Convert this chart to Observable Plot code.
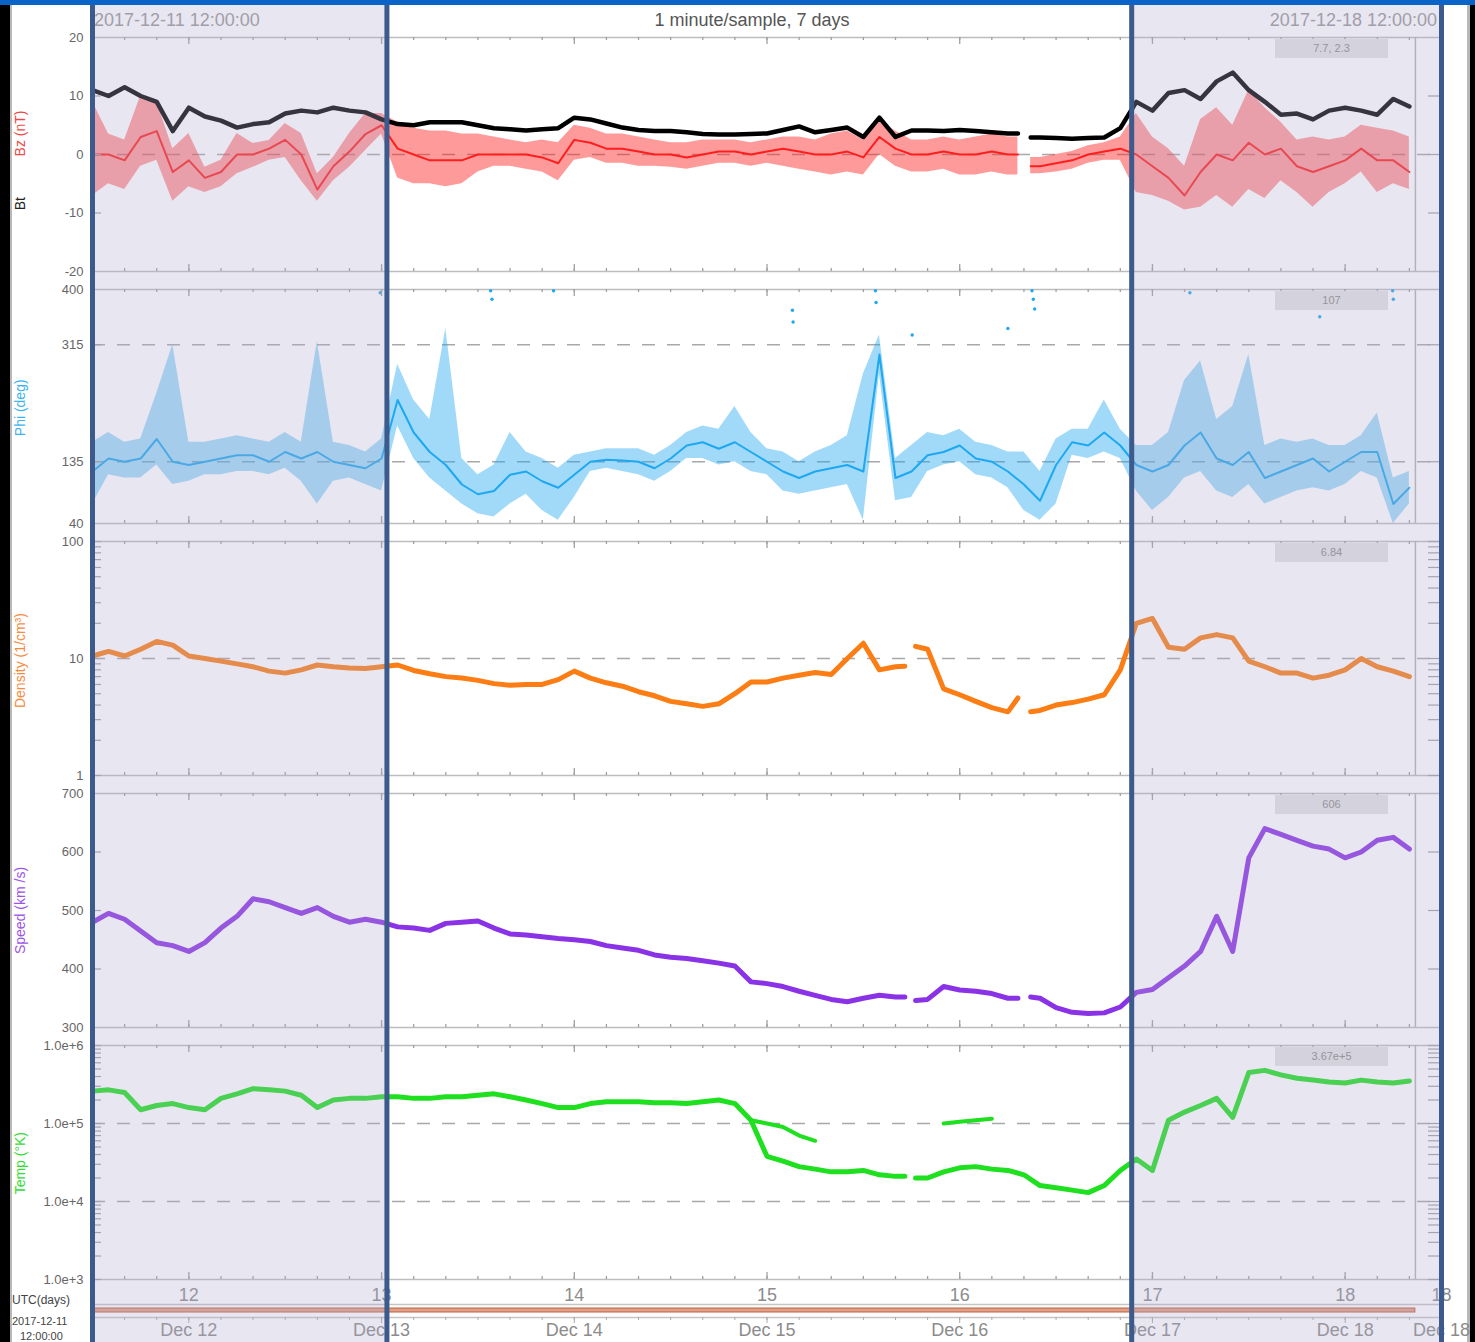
<!DOCTYPE html>
<html>
<head>
<meta charset="utf-8">
<script src="https://cdn.jsdelivr.net/npm/d3@7"></script>
<script src="https://cdn.jsdelivr.net/npm/@observablehq/plot@0.6"></script>
<style>
  html, body { margin: 0; padding: 0; background: #fff; }
  #wrap { position: relative; width: 1475px; height: 1342px; overflow: hidden; background: #fff;
          font-family: "Liberation Sans", Arial, sans-serif; }
  #wrap > * { position: absolute; }
  .hdr { font-size: 18px; line-height: 18px; top: 11px; white-space: nowrap; }
  .vbox { width: 113px; height: 19px; background: #e3e3e3; color: #8a8a8a; font-size: 11px; line-height: 19px; text-align: center; }
  .small { color: #444; white-space: nowrap; }
</style>
</head>
<body>
<div id="wrap"></div>
<script>
// ---------------- data (2-hour samples, starting 2017-12-11 12:00 UTC) -------------
const startTime = "2017-12-11T12:00:00Z";
const endTime = "2017-12-18T12:00:00Z";
const dataEndTime = "2017-12-18T08:45:00Z";
const sampleHours = 2;

const bt = [11, 10, 11.5, 10, 9, 4, 8, 6.5, 5.8, 4.6,
  5.2, 5.5, 7, 7.5, 7.2, 8, 7.5, 7.2, 6, 5.2,
  5.0, 5.5, 5.5, 5.5, 5.0, 4.5, 4.3, 4.1, 4.3, 4.5,
  6.3, 6.0, 5.3, 4.6, 4.2, 4.0, 4.0, 3.8, 3.5, 3.4,
  3.4, 3.5, 3.6, 4.2, 4.8, 3.8, 4.2, 4.6, 3.0, 6.3,
  3.0, 4.1, 4.1, 4.0, 4.2, 4.0, 3.8, 3.6, null, 2.9,
  2.8, 2.7, 2.8, 2.9, 4.5, 9, 7.5, 10.5, 11, 9.5,
  12.5, 14, 11, 9, 6.8, 7, 6, 7.5, 8, 7.5,
  6.8, 9.5, 8.2];

const bz = [0, 0, -1, 3, 4, -3, -1, -4, -3, 0,
  0, 1, 2.5, 0, -6, -2, 0.5, 3.5, 5, 1,
  0, -1, -1, -1, 0, 0, 0, 0, -0.5, -1.5,
  2.5, 2, 1, 1, 0.5, 0, 0, -0.5, 0, 0.5,
  0.5, 0, 0.5, 1, 0.5, 0, 0, 0.5, -0.5, 3,
  1, 0, 0, 0.5, 0, 0, 0.5, 0, null, -2,
  -1.5, -1, 0, 0.5, 1, 0, -2, -4, -7, -3,
  0, -1, 2, 0, 1, -2, -3, -2, -1, 1,
  -1, -1, -3];
const bzLow = [-7, -5, -6, -2, -1, -8, -5.5, -6.5, -5.5, -3.3,
  -2.2, -1, -0.5, -4.5, -8, -4.5, -2.2, 0.7, 3.5, -4,
  -5, -5, -5.5, -5, -3, -2, -2, -2.5, -3, -4.5,
  -1, -0.5, -1.5, -1.5, -2, -2, -2.2, -2.5, -2, -1.5,
  -1.5, -2, -1.5, -2, -2.5, -3, -3.5, -3, -3.5, 0,
  -2, -3, -3, -2.5, -3.5, -3.5, -3, -3.5, null, -3.3,
  -3, -2.5, -1.5, -1, -1, -6.5, -7, -8, -9.5, -9,
  -7, -9, -6, -7.5, -4.5, -6.5, -9, -6.5, -5, -3,
  -6.5, -5, -6];
const bzHigh = [9, 3.5, 2.5, 10, 9, 1, 3.6, -2.2, -1, 3.6,
  1.9, 2.4, 5.3, 3.6, -3.3, -0.5, 3.6, 7, 7, 5.5,
  4.5, 4, 4, 3.5, 3.5, 3, 2.5, 2, 2.5, 2,
  5, 4.5, 3.5, 3.5, 3, 2.5, 2, 2, 2.5, 2.5,
  2.5, 2, 2.5, 3, 3, 2.5, 3.5, 4, 2.5, 5.5,
  4, 2.5, 2.5, 3, 2.5, 3, 3.5, 3, null, -0.5,
  0, 0.5, 1.5, 2, 3, 7, 3, 1, -2, 6,
  8, 5, 11, 8, 5.5, 2.5, 3, 2.5, 3, 5,
  4.5, 4, 3];

const phi = [120, 140, 135, 140, 170, 135, 130, 135, 140, 145,
  145, 135, 150, 140, 150, 135, 130, 125, 140, 230,
  180, 150, 130, 100, 85, 90, 115, 120, 105, 95,
  115, 135, 138, 137, 135, 125, 140, 160, 165, 155,
  165, 150, 135, 120, 110, 120, 125, 130, 120, 300,
  110, 120, 145, 150, 160, 140, 135, 120, 100, 75,
  130, 165, 160, 180, 160, 130, 120, 130, 160, 180,
  140, 130, 150, 110, 120, 130, 140, 120, 135, 150,
  150, 70, 95];
const phiLow = [70, 115, 110, 110, 130, 100, 105, 115, 115, 120,
  120, 115, 125, 105, 70, 105, 110, 100, 90, 190,
  140, 110, 90, 70, 55, 50, 70, 85, 60, 45,
  80, 120, 125, 120, 115, 105, 120, 140, 140, 130,
  135, 120, 115, 90, 85, 90, 95, 100, 45, 270,
  75, 80, 120, 130, 135, 115, 110, 95, 60, 45,
  70, 145, 140, 150, 140, 90, 60, 80, 110, 120,
  90, 80, 100, 70, 80, 90, 95, 90, 100, 120,
  110, 40, 70];
const phiHigh = [165, 180, 165, 170, 240, 315, 165, 165, 170, 175,
  170, 165, 180, 165, 320, 165, 160, 150, 170, 285,
  230, 200, 340, 140, 115, 130, 180, 150, 140, 125,
  145, 150, 155, 155, 155, 145, 160, 180, 190, 185,
  220, 180, 155, 150, 135, 150, 160, 175, 270, 330,
  140, 160, 180, 175, 185, 165, 160, 150, 150, 120,
  170, 185, 185, 230, 185, 160, 160, 180, 260, 290,
  200, 220, 300, 160, 170, 165, 170, 160, 160, 175,
  210, 110, 120];
// isolated Phi points near the top of the panel
const phiOutlierTimes = ["2017-12-12T23:50Z", "2017-12-13T13:35Z", "2017-12-13T13:45Z", "2017-12-13T21:25Z",
  "2017-12-15T03:10Z", "2017-12-15T03:15Z", "2017-12-15T13:30Z", "2017-12-15T13:35Z", "2017-12-15T18:05Z",
  "2017-12-16T06:00Z", "2017-12-16T09:00Z", "2017-12-16T09:10Z", "2017-12-16T09:20Z", "2017-12-17T04:40Z",
  "2017-12-17T20:50Z", "2017-12-18T05:55Z", "2017-12-18T06:00Z"];
const phiOutlierValues = [395, 398, 385, 398, 368, 350, 398, 380, 330, 340, 398, 385, 370, 395, 358, 398, 385];

const density = [10.5, 11.5, 10.5, 12, 14, 13, 10.5, 10, 9.5, 9,
  8.5, 7.8, 7.5, 8, 8.8, 8.5, 8.3, 8.2, 8.5, 8.8,
  7.9, 7.4, 7.0, 6.8, 6.5, 6.1, 5.9, 6.0, 6.0, 6.6,
  7.8, 6.8, 6.2, 5.8, 5.2, 4.8, 4.3, 4.1, 3.9, 4.1,
  5.0, 6.3, 6.3, 6.8, 7.2, 7.6, 7.3, 10, 13.5, 8,
  8.5, null, 12, 5.5, 4.9, 4.3, 3.8, 3.5, null, 3.6,
  4.0, 4.2, 4.5, 4.9, 8, 20, 22, 12.5, 12, 15,
  16, 15, 9.5, 8.5, 7.5, 7.5, 6.8, 7.2, 8, 10,
  8.5, 7.8, 7];

const speed = [480, 495, 485, 465, 445, 440, 430, 445, 470, 490,
  520, 515, 505, 495, 505, 490, 480, 485, 480, 472,
  470, 466, 478, 480, 482, 470, 460, 458, 455, 452,
  450, 447, 440, 436, 432, 424, 420, 418, 414, 410,
  405, 378, 375, 370, 362, 355, 348, 344, 350, 355,
  352, null, 348, 370, 364, 362, 358, 350, null, 350,
  334, 326, 324, 325, 335, 360, 365, 385, 405, 430,
  490, 430, 590, 640, 630, 620, 610, 605, 590, 600,
  620, 625, 605];

const temp = [2.6e5, 2.7e5, 2.5e5, 1.5e5, 1.7e5, 1.8e5, 1.6e5, 1.5e5, 2.1e5, 2.4e5,
  2.8e5, 2.7e5, 2.6e5, 2.3e5, 1.6e5, 2.0e5, 2.1e5, 2.1e5, 2.2e5, 2.2e5,
  2.1e5, 2.1e5, 2.2e5, 2.2e5, 2.3e5, 2.4e5, 2.2e5, 2.0e5, 1.8e5, 1.6e5,
  1.6e5, 1.8e5, 1.9e5, 1.9e5, 1.9e5, 1.85e5, 1.85e5, 1.8e5, 1.9e5, 2.0e5,
  1.8e5, 1.1e5, 3.8e4, 3.3e4, 2.8e4, 2.6e4, 2.4e4, 2.4e4, 2.5e4, 2.2e4,
  2.1e4, null, 2.0e4, 2.4e4, 2.7e4, 2.8e4, 2.6e4, 2.5e4, 2.2e4, 1.6e4,
  1.5e4, 1.4e4, 1.3e4, 1.6e4, 2.5e4, 3.5e4, 2.5e4, 1.1e5, 1.4e5, 1.7e5,
  2.1e5, 1.2e5, 4.5e5, 4.8e5, 4.2e5, 3.8e5, 3.6e5, 3.4e5, 3.3e5, 3.6e5,
  3.4e5, 3.3e5, 3.5e5];
// second (upper) cluster of temperature points
const tempUpper = [null, null, null, null, null, null, null, null, null, null,
  null, null, null, null, null, null, null, null, null, null,
  null, null, null, null, null, null, null, null, null, null,
  null, null, null, null, null, null, null, null, null, null,
  null, 1.1e5, 1.0e5, 9e4, 7e4, 6e4, null, null, null, null,
  null, null, null, 1.0e5, 1.05e5, 1.1e5, 1.15e5, null, null, null,
  null, null, null, null, null, null, null, null, null, null,
  null, null, null, null, null, null, null, null, null, null,
  null, null, null];

// values read just before / after the two data gaps (null = that series has no gap there)
const gapEdgeTimes = ["2017-12-15T17:10Z", "2017-12-15T18:30Z", "2017-12-16T07:15Z", "2017-12-16T08:50Z"];
const btEdge      = [null, null, 3.6, 2.9];
const bzEdge      = [null, null, 0, -2];
const bzLowEdge   = [null, null, -3.5, -3.3];
const bzHighEdge  = [null, null, 3, -0.5];
const densityEdge = [8.6, 12.7, 4.6, 3.5];
const speedEdge   = [352, 346, 350, 352];
const tempEdge    = [2.1e4, 2.0e4, null, null];

// shaded intervals
const shadedStarts = ["2017-12-11T12:00:00Z", "2017-12-16T21:25:00Z"];
const shadedEnds = ["2017-12-13T00:40:00Z", "2017-12-18T12:00:00Z"];

// current-value labels
const valueLabels = ["7.7, 2.3", "107", "6.84", "606", "3.67e+5"];

// axis ticks
const bzTicks = [-20, -10, 0, 10, 20];
const phiTicks = [40, 135, 315, 400];
const densityTicks = [1, 10, 100];
const speedTicks = [300, 400, 500, 600, 700];
const tempTicks = [1e3, 1e4, 1e5, 1e6];
const bzRefs = [0], phiRefs = [135, 315], densityRefs = [10], speedRefs = [], tempRefs = [1e4, 1e5];

// ---------------- layout ---------------------------------------------------------------------
const T0 = new Date(startTime), T1 = new Date(endTime), dataEnd = new Date(dataEndTime);
const times = bt.map((_, i) => d3.utcHour.offset(T0, i * sampleHours));
const edgeTimes = gapEdgeTimes.map(s => new Date(s));

// one series = regular samples + gap-edge samples, sorted in time
function series(vals, edge) {
  const out = times.map((t, i) => ({t, v: vals[i]}));
  if (edge) edge.forEach((v, k) => { if (v != null) out.push({t: edgeTimes[k], v}); });
  return out.sort((a, b) => a.t - b.t);
}
function band(lo, hi, loEdge, hiEdge) {
  const out = times.map((t, i) => ({t, lo: lo[i], hi: hi[i]}));
  if (loEdge) loEdge.forEach((v, k) => { if (v != null) out.push({t: edgeTimes[k], lo: v, hi: hiEdge[k]}); });
  return out.sort((a, b) => a.t - b.t);
}
const btS = series(bt, btEdge), bzS = series(bz, bzEdge), bzB = band(bzLow, bzHigh, bzLowEdge, bzHighEdge);
const phiS = series(phi), phiB = band(phiLow, phiHigh);
const nS = series(density, densityEdge), vS = series(speed, speedEdge);
const tS = series(temp, tempEdge), tU = series(tempUpper);
const phiOut = phiOutlierTimes.map((t, i) => ({t: new Date(t), v: phiOutlierValues[i]}));
const shaded = shadedStarts.map((s, i) => ({start: new Date(s), end: new Date(shadedEnds[i])}));

const W = 1475, ML = 92, MR = 34, PH = 234, innerW = W - ML - MR;
const panelTops = [37, 289, 541, 793, 1045];
const xDomain = [T0, T1];
const hours4 = d3.utcHour.every(4).range(T0, T1);
const days = d3.utcDay.range(d3.utcHour.offset(T0, 1), T1);
const font = "Liberation Sans, Arial, sans-serif";
const baseStyle = {background: "transparent", overflow: "visible", fontFamily: font, fontSize: "13px", color: "#666"};

function logMinor(lo, hi) { // log tick marks between decades
  const out = [];
  for (let d = lo; d < hi; d *= 10) for (let k = 1; k < 10; k++) out.push(d * k);
  out.push(hi);
  return out;
}

const wrap = document.getElementById("wrap");
function box(css) { const d = document.createElement("div"); Object.assign(d.style, css); wrap.appendChild(d); return d; }
function txt(cls, text, css) { const d = box(css); d.className = cls; d.textContent = text; return d; }
function put(svg, top) { svg.style.position = "absolute"; svg.style.left = "0px"; svg.style.top = top + "px"; wrap.appendChild(svg); }

// window edges
box({left: "0px", top: "0px", width: "1475px", height: "5px", background: "#0a64c8"});
box({left: "0px", top: "5px", width: "10px", height: "1337px", background: "#000"});
box({left: "10px", top: "5px", width: "2px", height: "1337px", background: "#b8b8b8"});
box({left: "1467px", top: "5px", width: "3px", height: "1337px", background: "#b8b8b8"});
box({left: "1470px", top: "5px", width: "5px", height: "1337px", background: "#000"});

function edgeTicks() {
  const s = {stroke: "#a0a0a0", strokeWidth: 1.3};
  return [
    Plot.tickX(hours4, {...s, insetBottom: PH - 3}),
    Plot.tickX(hours4, {...s, insetTop: PH - 3}),
    Plot.tickX(days, {...s, insetBottom: PH - 7}),
    Plot.tickX(days, {...s, insetTop: PH - 7})
  ];
}

function panel({top, y, refs, sideTicks, marks, labels}) {
  const svg = Plot.plot({
    width: W, height: PH + 18, marginTop: 18, marginBottom: 0, marginLeft: ML, marginRight: MR,
    style: baseStyle,
    x: {domain: xDomain, axis: null},
    y: {...y, tickSize: 0, tickPadding: 9, label: null},
    marks: [
      Plot.frame({stroke: "#bdbdbd", strokeWidth: 1.5}),
      Plot.ruleY(refs, {stroke: "#a8a8a8", strokeWidth: 1.6, strokeDasharray: "13,12"}),
      Plot.ruleX([dataEnd], {stroke: "#b4b4b4", strokeWidth: 1.5}),
      ...marks,
      Plot.tickY(sideTicks, {stroke: "#a0a0a0", strokeWidth: 1.2, insetRight: innerW - 9}),
      Plot.tickY(sideTicks, {stroke: "#a0a0a0", strokeWidth: 1.2, insetLeft: innerW - 13}),
      ...edgeTicks(),
      Plot.text(labels, {text: "label", y: "y", fill: "fill", frameAnchor: "left", textAnchor: "middle",
        dx: -72, rotate: -90, fontSize: 14})
    ]
  });
  put(svg, top - 18);
}

// Panel 1: Bz / Bt
panel({
  top: panelTops[0],
  y: {domain: [-20, 20], ticks: bzTicks, tickFormat: d => String(d)},
  refs: bzRefs, sideTicks: [-10, 0, 10],
  marks: [
    Plot.areaY(bzB, {x: "t", y1: "lo", y2: "hi", fill: "#ff1e1e", fillOpacity: 0.45}),
    Plot.lineY(bzS, {x: "t", y: "v", stroke: "#ff1e1e", strokeWidth: 2}),
    Plot.lineY(btS, {x: "t", y: "v", stroke: "#000", strokeWidth: 4.5})
  ],
  labels: [{label: "Bz (nT)", y: 3.6, fill: "#f04848"}, {label: "Bt", y: -8.4, fill: "#222"}]
});

// Panel 2: Phi
panel({
  top: panelTops[1],
  y: {domain: [40, 400], ticks: phiTicks, tickFormat: d => String(d)},
  refs: phiRefs, sideTicks: [135, 315],
  marks: [
    Plot.areaY(phiB, {x: "t", y1: "lo", y2: "hi", fill: "#1ea8f0", fillOpacity: 0.42}),
    Plot.lineY(phiS, {x: "t", y: "v", stroke: "#1ea8f0", strokeWidth: 2}),
    Plot.dot(phiOut, {x: "t", y: "v", r: 1.7, fill: "#1ea8f0"})
  ],
  labels: [{label: "Phi (deg)", y: 218, fill: "#3ab4f0"}]
});

// Panel 3: Density
panel({
  top: panelTops[2],
  y: {type: "log", domain: [1, 100], ticks: densityTicks, tickFormat: d => String(d)},
  refs: densityRefs, sideTicks: logMinor(1, 100),
  marks: [
    Plot.lineY(nS, {x: "t", y: "v", stroke: "#fb7d14", strokeWidth: 5})
  ],
  labels: [{label: "Density (1/cm³)", y: 9.6, fill: "#f88a3c"}]
});

// Panel 4: Speed
panel({
  top: panelTops[3],
  y: {domain: [300, 700], ticks: speedTicks, tickFormat: d => String(d)},
  refs: speedRefs, sideTicks: [400, 500, 600],
  marks: [
    Plot.lineY(vS, {x: "t", y: "v", stroke: "#8a33e6", strokeWidth: 5})
  ],
  labels: [{label: "Speed (km /s)", y: 500, fill: "#9a55e8"}]
});

// Panel 5: Temperature
panel({
  top: panelTops[4],
  y: {type: "log", domain: [1e3, 1e6], ticks: tempTicks, tickFormat: d3.format(".1e")},
  refs: tempRefs, sideTicks: logMinor(1e3, 1e6),
  marks: [
    Plot.lineY(tU, {x: "t", y: "v", stroke: "#1ee01e", strokeWidth: 4}),
    Plot.lineY(tS, {x: "t", y: "v", stroke: "#1ee01e", strokeWidth: 5})
  ],
  labels: [{label: "Temp (°K)", y: 3.1e4, fill: "#33dd33"}]
});

// header texts
txt("hdr", "2017-12-11 12:00:00", {left: "94px", color: "#999"});
txt("hdr", "1 minute/sample, 7 days", {left: "652px", width: "200px", textAlign: "center", color: "#555"});
txt("hdr", "2017-12-18 12:00:00", {left: "1237px", width: "200px", textAlign: "right", color: "#999"});

// value boxes
valueLabels.forEach((s, i) => txt("vbox", s, {left: "1275px", top: (panelTops[i] + 2) + "px"}));

// bottom time axes
const bottom = Plot.plot({
  width: W, height: 63, marginTop: 25, marginBottom: 25, marginLeft: ML, marginRight: MR,
  style: {...baseStyle, fontSize: "18px", color: "#8c8c8c"},
  x: {domain: xDomain, axis: null},
  marks: [
    Plot.frame({stroke: "#c4c4c4", strokeWidth: 1.5}),
    Plot.rect([{start: T0, end: dataEnd}], {x1: "start", x2: "end", insetTop: 4, insetBottom: 5, fill: "#e0a088", stroke: "#c0603c", strokeWidth: 1}),
    Plot.axisX({anchor: "top", ticks: [...days, T1], tickFormat: d3.utcFormat("%-d"), tickSize: 0, tickPadding: 4}),
    Plot.axisX({anchor: "bottom", ticks: hours4, tickFormat: () => "", tickSize: 3, stroke: "#aaa"}),
    Plot.axisX({anchor: "bottom", ticks: [...days, T1], tickFormat: d3.utcFormat("%b %-d"), tickSize: 6, tickPadding: 0, stroke: "#aaa"})
  ]
});
put(bottom, 1279);

txt("small", "UTC(days)", {left: "12px", top: "1293px", fontSize: "12px"});
txt("small", "2017-12-11", {left: "12px", top: "1315px", fontSize: "11px"});
txt("small", "12:00:00", {left: "20px", top: "1330px", fontSize: "11px"});

// shaded overlay with its blue borders
const overlay = Plot.plot({
  width: W, height: 1337, marginTop: 0, marginBottom: 0, marginLeft: ML, marginRight: MR,
  style: {...baseStyle},
  x: {domain: xDomain, axis: null},
  marks: [
    Plot.rect(shaded, {x1: "start", x2: "end", fill: "rgb(178,172,205)", fillOpacity: 0.3}),
    Plot.ruleX(shaded.flatMap(d => [d.start, d.end]), {stroke: "#3c5a8c", strokeWidth: 5})
  ]
});
put(overlay, 5);
</script>
</body>
</html>
